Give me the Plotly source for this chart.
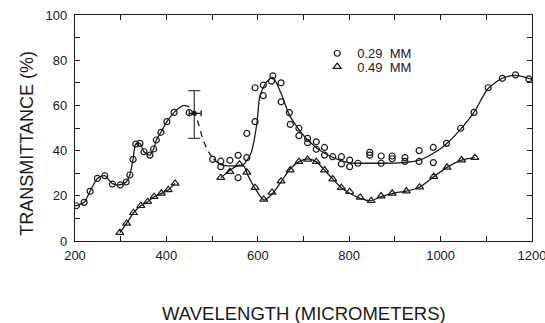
import plotly.graph_objects as go

# ---- measured data points ----
c029_x = [203, 220, 233, 249, 265, 282, 299, 312, 320, 327, 333, 342, 351, 364, 372, 378, 388, 401, 417, 450,
          501, 519, 519, 539, 557, 557, 576, 576, 594, 594, 612, 612, 630, 633, 651, 651, 669, 671, 690, 690,
          709, 709, 728, 728, 746, 746, 764, 783, 783, 801, 801, 819, 845, 845, 870, 870, 894, 894, 922, 922,
          953, 953, 984, 984, 1013, 1044, 1073, 1104, 1135, 1164, 1193]
c029_y = [15.6, 17.1, 22.0, 27.7, 28.9, 25.2, 24.8, 26.1, 29.2, 36.1, 42.9, 43.2, 39.5, 38.0, 40.7, 44.7, 48.1, 52.8, 56.9, 56.8,
          36.1, 35.3, 32.9, 35.7, 37.9, 28.0, 36.9, 47.6, 52.8, 67.8, 69.0, 64.3, 70.7, 73.1, 70.0, 61.6, 56.8, 51.6, 49.9, 46.6,
          45.4, 43.5, 43.9, 40.6, 41.4, 38.0, 37.3, 37.3, 34.1, 35.8, 32.9, 34.4, 39.2, 38.0, 37.6, 34.4, 37.6, 36.4, 36.9, 35.2,
          40.0, 35.2, 41.4, 34.7, 43.2, 49.9, 56.9, 67.8, 72.0, 73.5, 71.7]

t049_x = [298, 313, 328, 344, 359, 373, 389, 404, 419,
          519, 539, 560, 576, 594, 613, 631, 651, 671, 690, 709, 728, 746, 764, 783, 801, 824, 848, 870, 894,
          925, 954, 985, 1014, 1046, 1075]
t049_y = [3.7, 7.8, 12.5, 15.6, 17.4, 19.6, 21.1, 22.6, 25.5,
          28.0, 30.7, 34.0, 30.4, 23.6, 18.4, 21.5, 26.5, 31.4, 35.1, 36.1, 35.1, 31.4, 27.4, 23.6, 21.8, 19.3, 17.8, 19.9, 21.1,
          22.1, 23.8, 28.5, 32.6, 35.8, 36.9]

# ---- smooth curves drawn through the data ----
c029_fit1_x = [200, 203, 220, 233, 249, 265, 282, 299, 312, 320, 327, 333, 342, 351, 364, 372, 378, 388, 401, 417, 430, 438]
c029_fit1_y = [15.5, 15.6, 17.1, 22.0, 27.7, 28.9, 25.4, 24.9, 26.1, 29.2, 36.1, 42.9, 43.2, 39.5, 38.0, 40.7, 44.7, 48.1, 52.8, 56.9, 59.2, 60.0]
c029_dash_x = [438, 450, 461, 470, 480, 492, 503]
c029_dash_y = [60.0, 59.4, 57.0, 52.0, 45.0, 39.5, 36.4]
c029_fit2_x = [503, 519, 545, 567, 585, 598, 604, 611, 620, 633, 651, 669, 691, 713, 746, 779, 801, 852, 911, 954, 998,
               1013, 1044, 1073, 1104, 1135, 1164, 1200]
c029_fit2_y = [36.4, 33.8, 33.2, 33.6, 38.8, 52.0, 63.8, 67.5, 70.5, 72.4, 65.3, 55.8, 49.1, 43.9, 38.8, 35.8, 34.6, 34.4, 34.6, 35.8, 40.6,
               43.0, 49.5, 56.9, 67.5, 72.0, 73.3, 71.5]

t049_fit1_x = [298, 313, 328, 344, 359, 373, 389, 404, 419]
t049_fit1_y = [3.7, 7.8, 12.5, 15.6, 17.4, 19.6, 21.1, 22.6, 25.5]
t049_fit2_x = [519, 537, 557, 570, 578, 596, 614, 633, 651, 669, 690, 709, 728, 746, 764, 783, 801, 824, 848, 870, 896,
               925, 954, 984, 1014, 1046, 1075]
t049_fit2_y = [28.0, 31.0, 33.5, 33.0, 29.2, 22.6, 18.1, 21.1, 26.2, 31.4, 35.1, 36.3, 35.1, 31.4, 27.4, 23.6, 21.1, 18.9, 17.8, 19.6, 21.1,
               22.1, 23.8, 28.3, 32.6, 35.8, 36.9]

# error bar point
err_x = [461]
err_y = [56.5]
err_y_plus = [10.0]
err_y_minus = [11.1]
err_x_plus = [15]
err_x_minus = [11]

x_ticks = [200, 400, 600, 800, 1000, 1200]
y_ticks = [0, 20, 40, 60, 80, 100]

INK = "#1a1a1a"
FONT = "Liberation Sans"

fig = go.Figure()

line_style = dict(color=INK, width=1.3, shape="spline", smoothing=0.7)
for xs, ys in [(c029_fit1_x, c029_fit1_y), (c029_fit2_x, c029_fit2_y), (t049_fit1_x, t049_fit1_y), (t049_fit2_x, t049_fit2_y)]:
    fig.add_trace(go.Scatter(x=xs, y=ys, mode="lines", line=line_style, showlegend=False, hoverinfo="skip"))
fig.add_trace(go.Scatter(x=c029_dash_x, y=c029_dash_y, mode="lines",
                         line=dict(color=INK, width=1.3, dash="6px,5px", shape="spline", smoothing=0.7),
                         showlegend=False, hoverinfo="skip"))

fig.add_trace(go.Scatter(x=c029_x, y=c029_y, mode="markers", name="0.29\u00a0 MM", legend="legend",
                         marker=dict(symbol="circle-open", size=6, color=INK, line=dict(width=1.2))))
fig.add_trace(go.Scatter(x=t049_x, y=t049_y, mode="markers", name="0.49\u00a0 MM", legend="legend2",
                         marker=dict(symbol="triangle-up-open", size=7, color=INK, line=dict(width=1.2))))

fig.add_trace(go.Scatter(x=err_x, y=err_y, mode="markers", showlegend=False,
                         marker=dict(symbol="circle", size=5, color=INK),
                         error_y=dict(type="data", symmetric=False, array=err_y_plus, arrayminus=err_y_minus,
                                      color="#444", thickness=1.3, width=6),
                         error_x=dict(type="data", symmetric=False, array=err_x_plus, arrayminus=err_x_minus,
                                      color=INK, thickness=1.3, width=3)))

leg_common = dict(xanchor="left", yanchor="top", bgcolor="rgba(0,0,0,0)",
                  font=dict(size=13, family=FONT, color=INK), itemwidth=30)

fig.update_layout(
    width=545, height=323,
    margin=dict(l=75, r=13, t=15, b=82, autoexpand=False),
    paper_bgcolor="white", plot_bgcolor="white",
    font=dict(family=FONT, color=INK, size=13),
    legend=dict(x=0.53, y=0.897, **leg_common),
    legend2=dict(x=0.53, y=0.838, **leg_common),
    annotations=[
        dict(text="WAVELENGTH (MICROMETERS)", xref="paper", yref="paper", x=0.501, y=-0.319,
             xanchor="center", yanchor="middle", showarrow=False, font=dict(size=18.5, family=FONT, color=INK)),
        dict(text="TRANSMITTANCE (%)", xref="paper", yref="paper", x=-0.107, y=0.431, textangle=-90,
             xanchor="center", yanchor="middle", showarrow=False, font=dict(size=18, family=FONT, color=INK)),
    ],
)

fig.update_xaxes(range=[200, 1200], tickvals=x_ticks, ticks="inside", ticklen=5, tickcolor=INK,
                 showline=True, linecolor=INK, linewidth=1.3, mirror="allticks", showgrid=False, zeroline=False,
                 automargin=False, ticklabeloverflow="allow", ticklabelstandoff=2,
                 tickfont=dict(size=13, family=FONT, color=INK),
                 minor=dict(dtick=100, tick0=200, ticks="inside", ticklen=5, tickcolor=INK, showgrid=False))
fig.update_yaxes(range=[0, 100], tickvals=y_ticks, ticks="inside", ticklen=5, tickcolor=INK,
                 showline=True, linecolor=INK, linewidth=1.3, mirror="allticks", showgrid=False, zeroline=False,
                 automargin=False, ticklabelstandoff=4,
                 tickfont=dict(size=13, family=FONT, color=INK),
                 minor=dict(dtick=10, tick0=0, ticks="inside", ticklen=5, tickcolor=INK, showgrid=False))

# remove the browser's default 8px body margin so the 545x323 figure fills the window exactly
fig.write_html("out.html", config={"displayModeBar": False},
               post_script="document.body.style.margin='0';document.body.style.overflow='hidden';")
